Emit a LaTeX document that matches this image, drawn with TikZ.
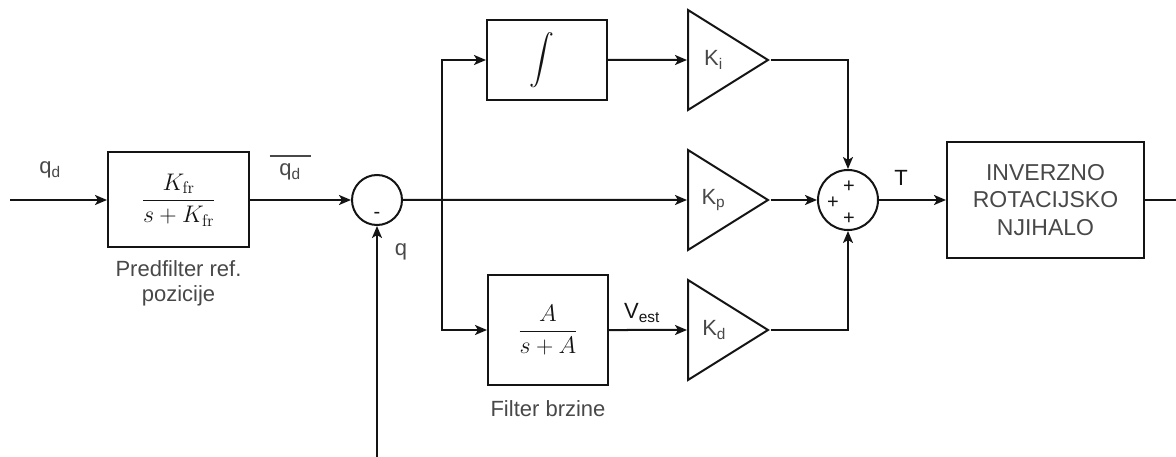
\RequirePackage{fix-cm}
\documentclass[tikz,border=0pt]{standalone}
\usepackage{amsmath}
\usepackage[no-math]{fontspec}
\setmainfont{Liberation Sans}
\usetikzlibrary{arrows.meta,positioning,shapes.geometric}
\definecolor{ink}{RGB}{20,20,20}
\definecolor{grey}{RGB}{72,72,72}
\tikzset{
  >={Stealth[length=12pt,width=10pt,inset=3pt]},
  block/.style={draw=ink,line width=2pt,minimum width=#1,align=center,text=ink,inner sep=0pt},
  block/.default=120pt,
  gain/.style={isosceles triangle,isosceles triangle stretches,draw=ink,line width=2pt,
    minimum width=100pt,minimum height=80pt,inner sep=0pt,anchor=lower side,
    font=\fontsize{22}{26}\selectfont,text=grey},
  junction/.style={circle,draw=ink,line width=2pt,minimum size=#1,inner sep=0pt},
  flow/.style={->,line width=2pt,draw=ink},
  tag/.style={font=\fontsize{22}{25}\selectfont,text=grey,align=center,inner sep=0pt},
  sign/.style={font=\fontsize{20}{20}\selectfont,text=ink,inner sep=0pt},
  frac/.style={font=\fontsize{24}{28}\selectfont},
}

\begin{document}
\begin{tikzpicture}[x=1pt,y=-1pt]
  \useasboundingbox (0,0) rectangle (1176,457);
  % blocks
  \node[block=141pt,minimum height=95pt,frac] (pre) at (178.5,200) {$\displaystyle\frac{K_{\mathrm{fr}}}{s+K_{\mathrm{fr}}}$};
  \node[junction=50pt] (sum1) at (377,200) {};
  \node[block,minimum height=80pt,frac] (int) at (547,60) {$\displaystyle\int$\hspace*{10pt}};
  \node[block,minimum height=110pt,frac] (filt) at (548,330) {$\displaystyle\frac{A}{s+A}$};
  \node[gain] (ki) at (687,60) {K\textsubscript{i}};
  \node[gain] (kp) at (687,200) {K\textsubscript{p}};
  \node[gain] (kd) at (687,330) {K\textsubscript{d}};
  \node[junction=60pt] (sum2) at (848,200) {};
  \node[block=197pt,minimum height=116pt,tag,font=\fontsize{23}{27.5}\selectfont] (plant) at (1045.5,200) {INVERZNO\\ROTACIJSKO\\NJIHALO};
  \coordinate (in) at (10,200);
  \coordinate (out) at (1176,200);
  \coordinate (fb) at (377,457);
  \coordinate (br) at (442,200);
  % signs
  \node[sign] at ([yshift=-15pt]sum1.center) {-};
  \node[sign] at ([xshift=1pt,yshift=13pt]sum2.center) {+};
  \node[sign] at ([xshift=-15pt,yshift=-3pt]sum2.center) {+};
  \node[sign] at ([xshift=1pt,yshift=-19pt]sum2.center) {+};
  % labels
  \node[below=12pt of pre,tag] {Predfilter ref.\\pozicije};
  \node[below=14pt of filt,tag] {Filter brzine};
  \node[tag] at (50,170) {q\textsubscript{d}};
  \node[tag,anchor=base] at (290,176) {\rule{41pt}{2pt}\\[-6pt]q\textsubscript{d}};
  \node[tag] at (401,252) {q};
  \node[tag,text=ink] at (901,178) {T};
  \node[tag,text=ink] at (642,313) {V\textsubscript{est}};
  % connectors
  \draw[flow] (in) -- (pre);
  \draw[flow] (pre) -- (sum1);
  \draw[flow] (fb) -- (sum1);
  \draw[flow] (sum1) -- (kp);
  \draw[flow] (br) |- (int);
  \draw[flow] (br) |- (filt);
  \draw[flow] (int) -- (ki);
  \draw[flow] (filt) -- (kd);
  \draw[flow] (ki.apex) -| (sum2);
  \draw[flow] (kp.apex) -- (sum2);
  \draw[flow] (kd.apex) -| (sum2);
  \draw[flow] (sum2) -- (plant);
  \draw[line width=2pt,draw=ink] (plant) -- (out);
\end{tikzpicture}
\end{document}
